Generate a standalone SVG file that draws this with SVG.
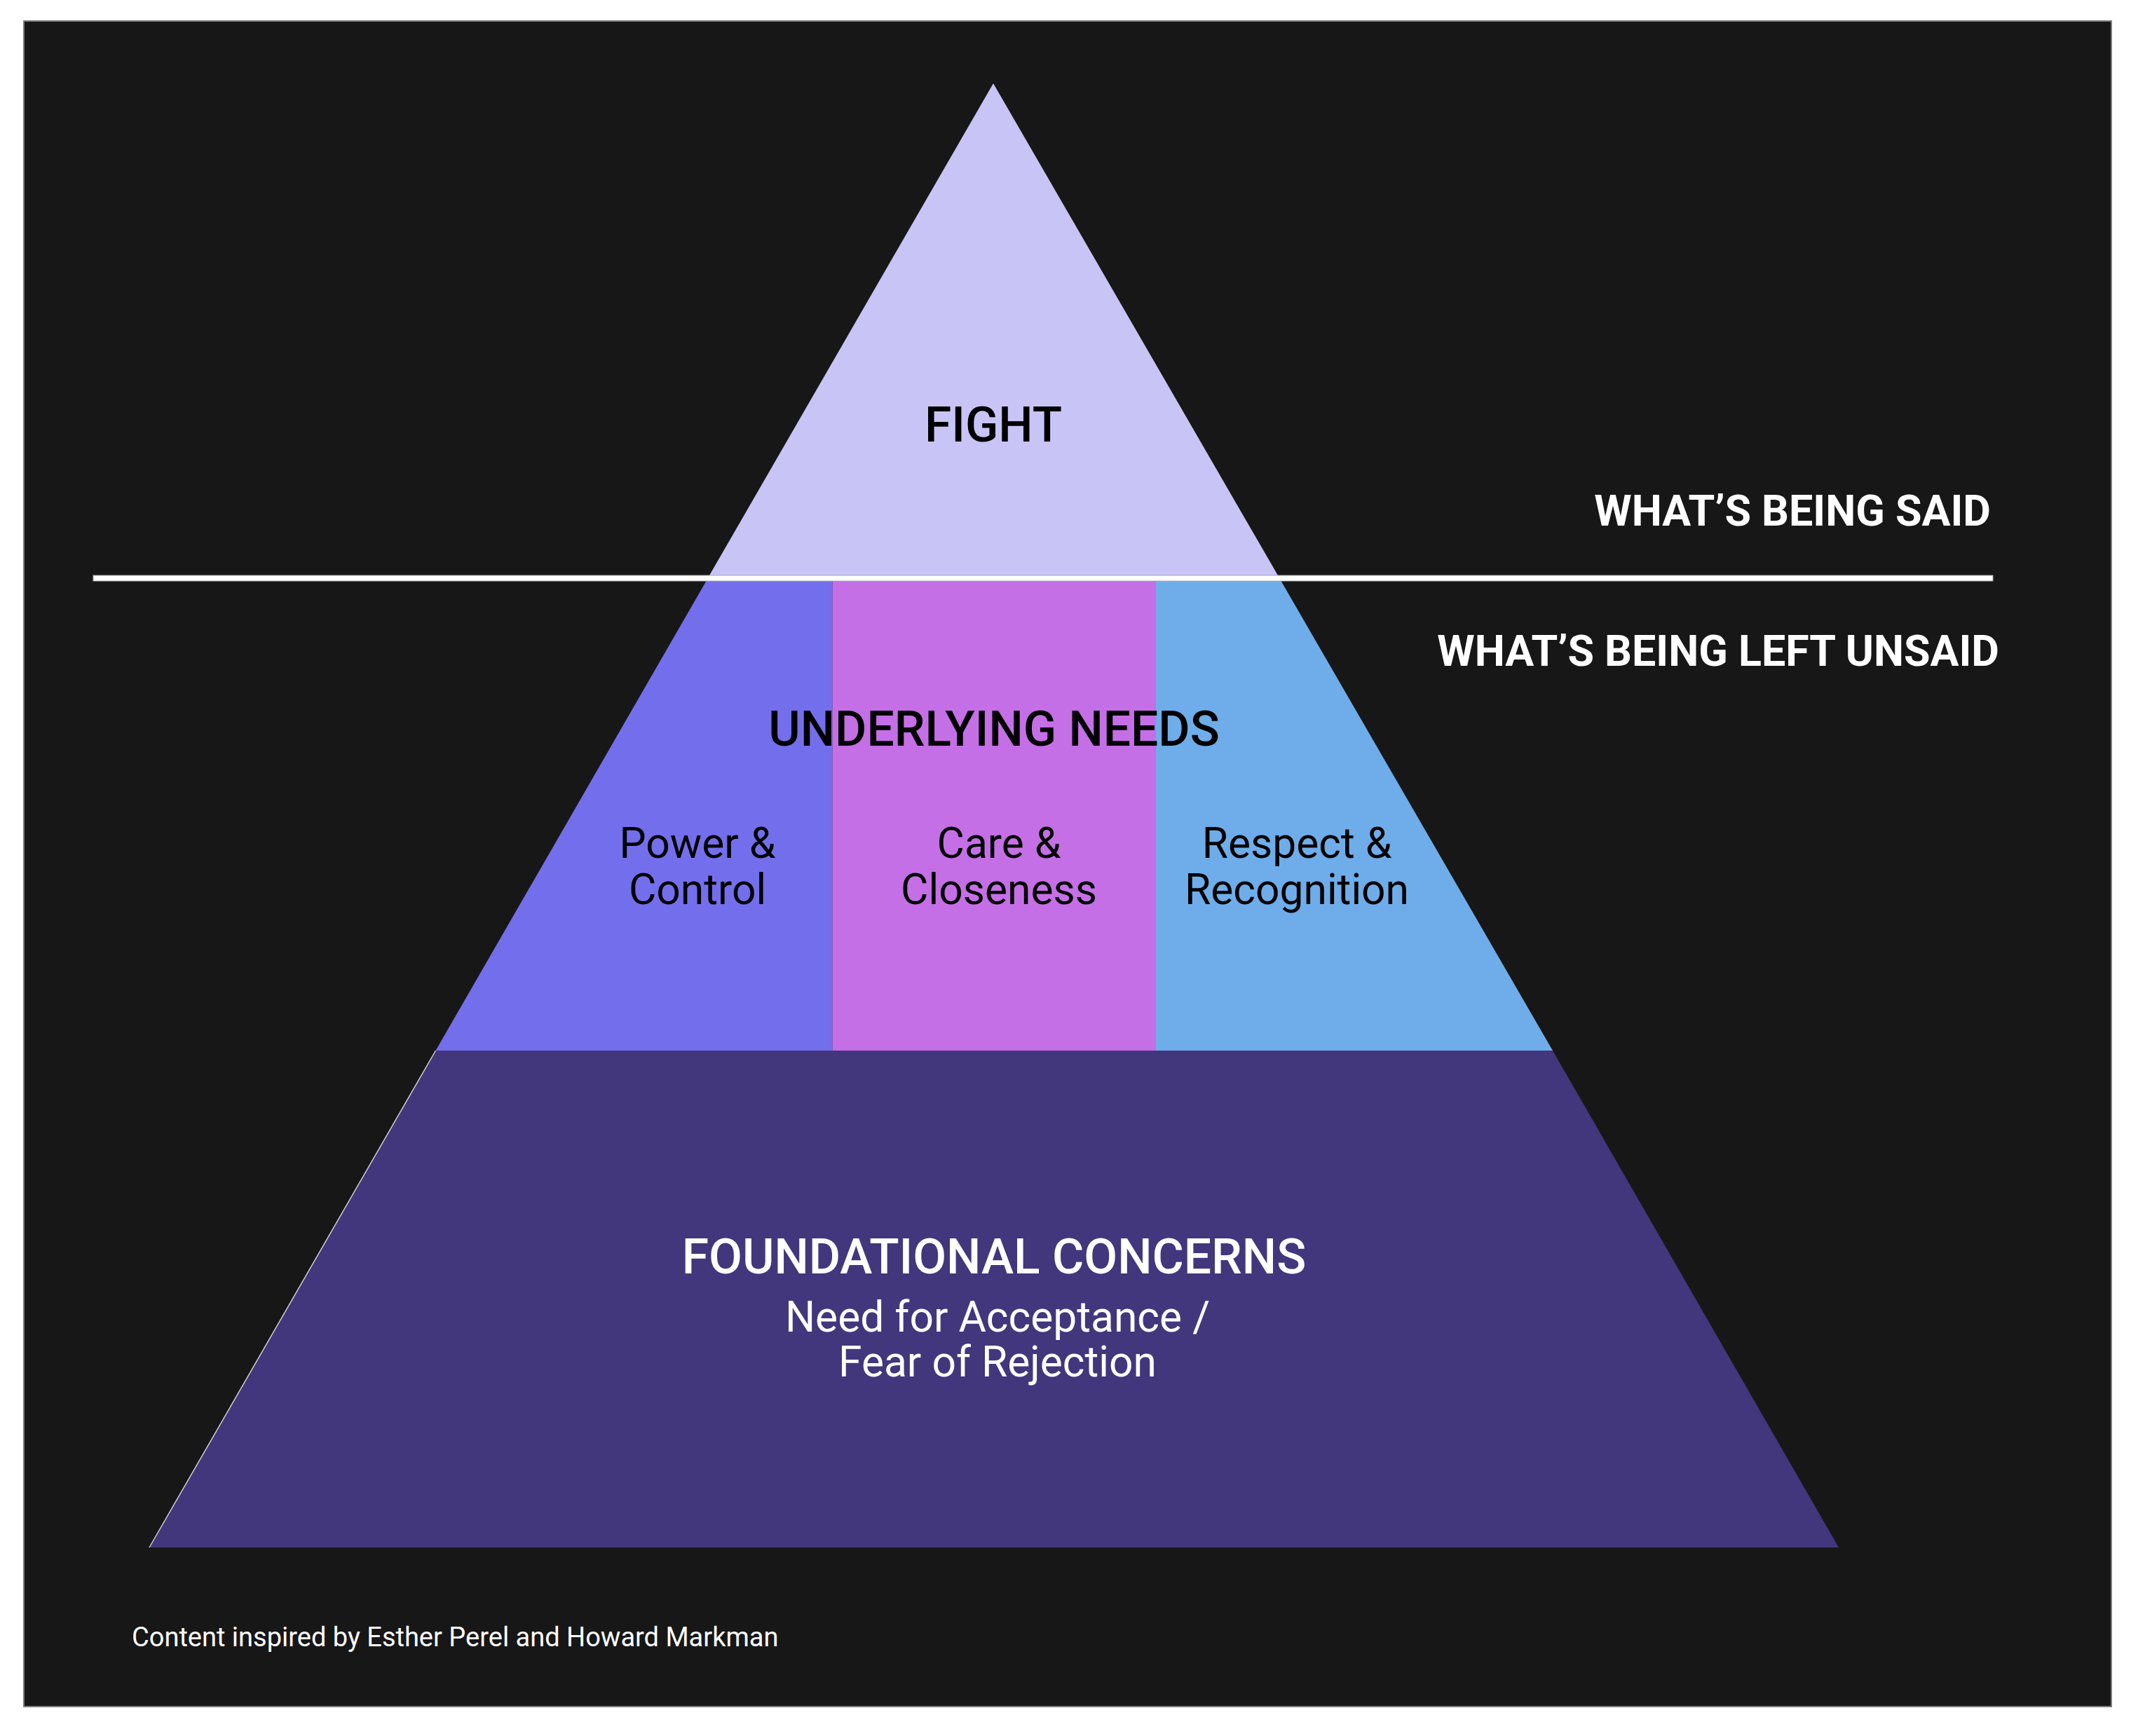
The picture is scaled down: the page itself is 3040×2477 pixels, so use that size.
<svg xmlns="http://www.w3.org/2000/svg" width="3040" height="2477" viewBox="0 0 3040 2477">
<style>
.h{font-family:Roboto,"Liberation Sans",sans-serif;font-weight:500;font-size:69.5px;text-anchor:middle}
.s{font-family:Roboto,"Liberation Sans",sans-serif;font-weight:400;font-size:60.5px;text-anchor:middle;fill:#000}
.side{font-family:Roboto,"Liberation Sans",sans-serif;font-weight:700;font-size:61px;fill:#fff;text-anchor:end}
</style>
<rect x="0" y="0" width="3040" height="2477" fill="#fff"/>
<rect x="34" y="30" width="2978" height="2405" fill="#171717" stroke="#7a7a7a" stroke-width="2"/>
<g id="fight">
<polygon points="1417,119 1823,821 1012,821" fill="#c9c4f6"/>
<text class="h" x="1417" y="630" fill="#000">FIGHT</text>
</g>
<g id="power">
<polygon points="1007.5,829 1187.5,829 1187.5,1499 621.5,1499" fill="#736fec"/>
</g>
<g id="care">
<rect x="1187.5" y="829" width="462" height="670" fill="#c56fe6"/>
</g>
<g id="respect">
<polygon points="1649,829 1827.5,829 2215,1499 1649,1499" fill="#6eade9"/>
</g>
<g id="underlying">
<text class="h" x="1418" y="1064" fill="#000">UNDERLYING NEEDS</text>
<text class="s" x="995" y="1224">Power &amp;</text>
<text class="s" x="995" y="1290">Control</text>
<text class="s" x="1425" y="1224">Care &amp;</text>
<text class="s" x="1425" y="1290">Closeness</text>
<text class="s" x="1850" y="1224">Respect &amp;</text>
<text class="s" x="1850" y="1290">Recognition</text>
</g>
<g id="foundation">
<polygon points="621.5,1499 2215,1499 2623,2208 213,2208" fill="#42367c"/>
<line x1="621.5" y1="1499" x2="213" y2="2208" stroke="#cfcfcf" stroke-width="1.5"/>
<text class="h" x="1418" y="1817" fill="#fff">FOUNDATIONAL CONCERNS</text>
<text class="s" x="1423" y="1900" style="fill:#fff">Need for Acceptance /</text>
<text class="s" x="1423" y="1964" style="fill:#fff">Fear of Rejection</text>
</g>
<g id="divider">
<rect x="133" y="821" width="2710" height="8" fill="#fff" stroke="#aaa" stroke-width="1"/>
<text class="side" x="2840" y="750">WHAT’S BEING SAID</text>
<text class="side" x="2852" y="950">WHAT’S BEING LEFT UNSAID</text>
</g>
<text x="188" y="2349" font-family="Roboto,'Liberation Sans',sans-serif" font-size="38" fill="#fff">Content inspired by Esther Perel and Howard Markman</text>
</svg>
